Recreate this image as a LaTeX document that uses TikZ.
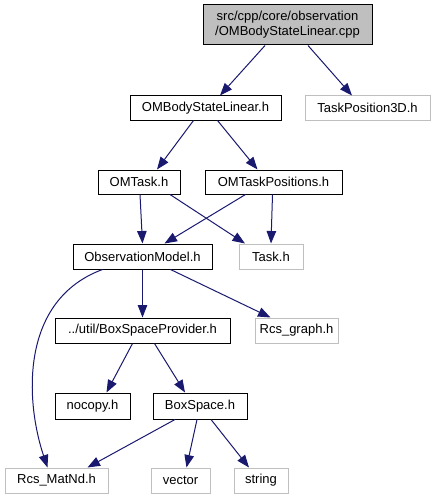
\documentclass[tikz,border=0pt]{standalone}
\usepackage{fontspec}
\setmainfont{Liberation Sans}
\usetikzlibrary{arrows.meta}
\definecolor{edgeblue}{HTML}{191970}
\definecolor{lightgr}{HTML}{BFBFBF}
\begin{document}
\begin{tikzpicture}[x=1pt,y=-1pt,
  file/.style={draw=black, line width=1pt, inner sep=0pt, font=\fontsize{13}{15}\selectfont},
  ext/.style={file, draw=lightgr},
  dep/.style={draw=edgeblue, line width=1pt, -{Triangle[length=12.5pt,width=9.5pt]}}]
\useasboundingbox (0,0) rectangle (437,500);
\node[file, fill=lightgr, minimum width=169, minimum height=40, align=center] (root) at (287.5,25) {src/cpp/core/observation\\/OMBodyStateLinear.cpp};
\node[file, minimum width=151, minimum height=24] (obsl) at (205.5,108) {OMBodyStateLinear.h};
\node[ext, minimum width=125, minimum height=24] (tp3d) at (367.5,108) {TaskPosition3D.h};
\node[file, minimum width=82, minimum height=24] (omtask) at (139,182) {OMTask.h};
\node[file, minimum width=137, minimum height=24] (omtp) at (273.5,182) {OMTaskPositions.h};
\node[file, minimum width=139, minimum height=25] (obsm) at (142.5,256.5) {ObservationModel.h};
\node[ext, minimum width=64, minimum height=25] (task) at (271,256.5) {Task.h};
\node[file, minimum width=175, minimum height=25] (bsp) at (142.5,330.5) {../util/BoxSpaceProvider.h};
\node[ext, minimum width=83, minimum height=25] (rcsg) at (296.5,330.5) {Rcs\_graph.h};
\node[file, minimum width=75, minimum height=26] (nocopy) at (92.5,406) {nocopy.h};
\node[file, minimum width=94, minimum height=26] (bs) at (200,406) {BoxSpace.h};
\node[ext, minimum width=103, minimum height=25] (matnd) at (56.5,480.5) {Rcs\_MatNd.h};
\node[ext, minimum width=59, minimum height=25] (vector) at (180.5,480.5) {vector};
\node[ext, minimum width=54, minimum height=25] (string) at (261,480.5) {string};

\draw[dep] ([xshift=-22.5pt]root.south) -- ([xshift=14.5pt]obsl.north);
\draw[dep] ([xshift=20.5pt]root.south) -- ([xshift=-15.5pt]tp3d.north);
\draw[dep] ([xshift=-12pt]obsl.south) -- ([xshift=18pt]omtask.north);
\draw[dep] ([xshift=12pt]obsl.south) -- ([xshift=-16pt]omtp.north);
\draw[dep] ([xshift=1pt]omtask.south) -- (obsm.north);
\draw[dep] ([xshift=31pt]omtask.south) -- ([xshift=-26pt]task.north);
\draw[dep] ([xshift=-28pt]omtp.south) -- ([xshift=22pt]obsm.north);
\draw[dep] ([xshift=-1pt]omtp.south) -- (task.north);
\draw[dep] (obsm.south) -- (bsp.north);
\draw[dep] ([xshift=28pt]obsm.south) -- ([xshift=-26pt]rcsg.north);
\draw[dep] ([xshift=-40pt]obsm.south) .. controls (20,300) and (25,400) .. ([xshift=-9pt]matnd.north);
\draw[dep] ([xshift=-10pt]bsp.south) -- ([xshift=14pt]nocopy.north);
\draw[dep] ([xshift=12pt]bsp.south) -- ([xshift=-15pt]bs.north);
\draw[dep] ([xshift=-25pt]bs.south) -- ([xshift=31pt]matnd.north);
\draw[dep] ([xshift=-3pt]bs.south) -- ([xshift=6pt]vector.north);
\draw[dep] ([xshift=11pt]bs.south) -- ([xshift=-12pt]string.north);
\end{tikzpicture}
\end{document}
